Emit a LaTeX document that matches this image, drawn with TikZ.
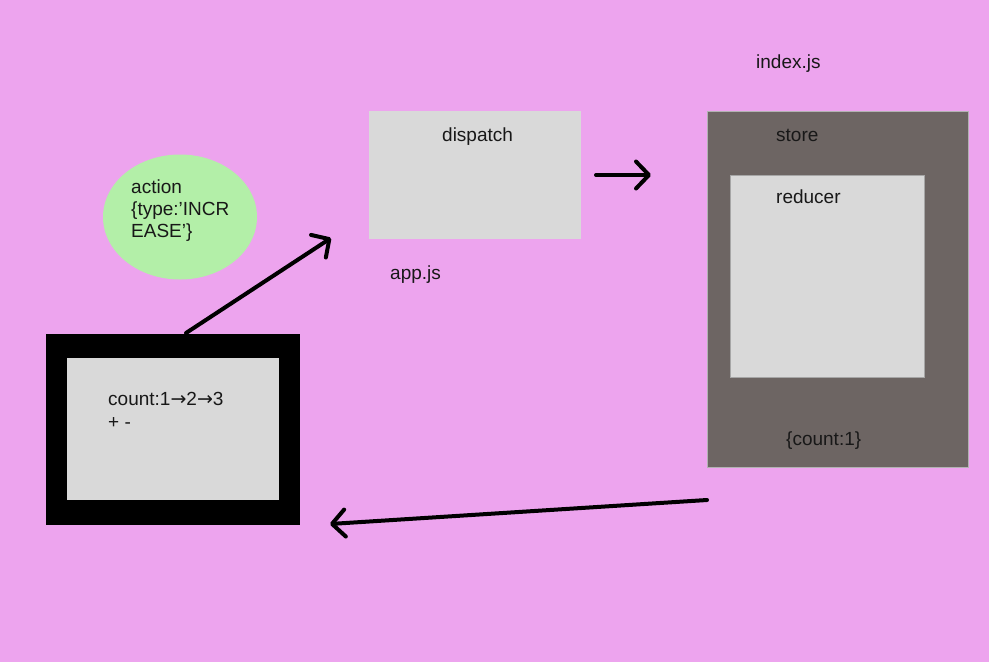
\documentclass[tikz,border=0pt]{standalone}
\usepackage{fontspec}
\setmainfont{Liberation Sans}
\newfontfamily\symfont{DejaVu Sans}
\usetikzlibrary{arrows.meta,shapes.geometric}
\definecolor{bg}{RGB}{237,164,238}
\definecolor{boxgray}{RGB}{217,217,217}
\definecolor{storegray}{RGB}{109,101,99}
\definecolor{actgreen}{RGB}{179,239,168}
\definecolor{txt}{RGB}{24,24,24}
\newcommand{\rarr}{{\symfont\fontsize{19}{20}\selectfont →}}
\tikzset{
  panel/.style={fill=boxgray, draw=none, inner sep=0pt, anchor=north west},
  lbl/.style={anchor=base west, inner sep=0pt, text=txt},
  flow/.style={line width=4pt, line cap=round, line join=round,
    -{Straight Barb[length=13pt,width=27pt,round]}}
}
\begin{document}
\begin{tikzpicture}[x=1pt,y=-1pt,font=\fontsize{19}{23}\selectfont]
\fill[bg] (0,0) rectangle (989,662);
\useasboundingbox (0,0) rectangle (989,662);

% action ellipse
\node[ellipse, fill=actgreen, minimum width=154pt, minimum height=125pt, inner sep=0pt] (action) at (180,217) {};
\node[lbl] (act1) at (131,193) {action};
\node[lbl] (act2) at (131,215) {\{type:’INCR};
\node[lbl] (act3) at (131,237) {EASE’\}};

% dispatch box
\node[panel, minimum width=212pt, minimum height=128pt] (dispatch) at (369,111) {};
\node[lbl] (tdisp) at (442,141) {dispatch};
\node[lbl] (tapp) at (390,279) {app.js};

% store
\node[lbl] (tindex) at (756,68) {index.js};
\node[panel, fill=storegray, draw=gray!60, line width=0.6pt, minimum width=261pt, minimum height=356pt] (store) at (707,111) {};
\node[panel, draw=gray!70, line width=0.6pt, minimum width=194pt, minimum height=202pt] (reducer) at (730,175) {};
\node[lbl] (tstore) at (776,141) {store};
\node[lbl] (treducer) at (776,203) {reducer};
\node[lbl] (tstate) at (786,445) {\{count:1\}};

% view frame
\node[panel, fill=black, minimum width=254pt, minimum height=191pt] (frame) at (46,334) {};
\node[panel, minimum width=212pt, minimum height=142pt] (view) at (67,358) {};
\node[lbl] (tcount) at (108,405) {count:1\rarr2\rarr3};
\node[lbl] (tbtn) at (108,428) {+ -};

% connectors
\coordinate (a1s) at (186,333);
\coordinate (a1e) at (331,238);
\coordinate (a2s) at (596,175);
\coordinate (a2e) at (651,175);
\coordinate (a3s) at (707,500);
\coordinate (a3e) at (330,524);
\draw[flow] (a1s) -- (a1e);
\draw[flow] (a2s) -- (a2e);
\draw[flow] (a3s) -- (a3e);
\end{tikzpicture}
\end{document}
